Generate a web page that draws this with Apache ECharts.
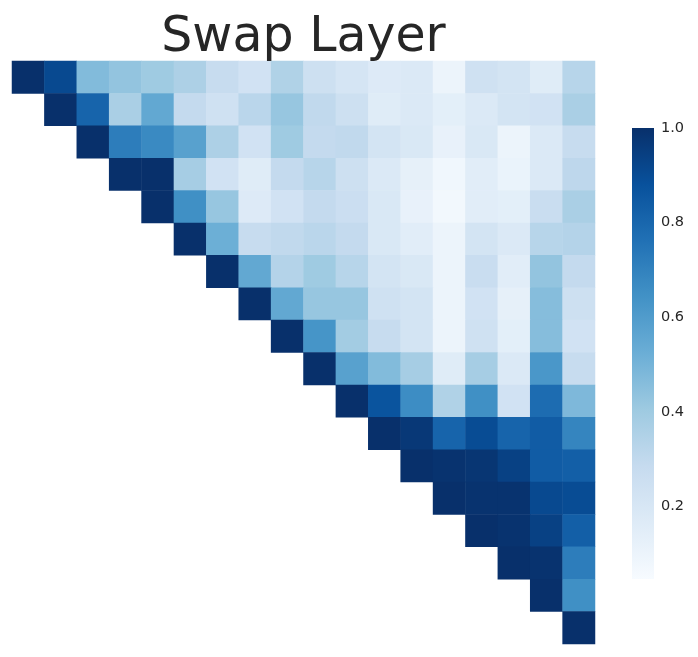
<!DOCTYPE html>
<html lang="en">
<head>
    <meta charset="UTF-8">
    <title>Swap Layer</title>
    <script src="https://cdn.jsdelivr.net/npm/echarts@6/dist/echarts.min.js"></script>
    <style>
        body { margin: 0; background: #fff; }
        #chart { width: 698px; height: 657px; }
    </style>
</head>
<body>
<div id="chart"></div>
<script>
    // layer indices, rows hold the upper triangle starting at the diagonal
    var layers = ['0','1','2','3','4','5','6','7','8','9','10','11','12','13','14','15','16','17'];
    var row0  = [1.0, 0.91, 0.47, 0.43, 0.40, 0.36, 0.28, 0.23, 0.35, 0.25, 0.21, 0.17, 0.18, 0.10, 0.24, 0.22, 0.16, 0.33];
    var row1  = [1.0, 0.81, 0.37, 0.55, 0.29, 0.24, 0.32, 0.42, 0.30, 0.25, 0.16, 0.18, 0.14, 0.18, 0.22, 0.23, 0.37];
    var row2  = [1.0, 0.72, 0.67, 0.58, 0.36, 0.23, 0.40, 0.29, 0.30, 0.22, 0.19, 0.12, 0.19, 0.10, 0.18, 0.28];
    var row3  = [1.0, 1.0, 0.38, 0.23, 0.16, 0.29, 0.33, 0.25, 0.18, 0.13, 0.08, 0.15, 0.11, 0.18, 0.31];
    var row4  = [1.0, 0.65, 0.42, 0.17, 0.23, 0.29, 0.26, 0.19, 0.12, 0.07, 0.15, 0.14, 0.27, 0.37];
    var row5  = [1.0, 0.52, 0.28, 0.30, 0.32, 0.29, 0.19, 0.15, 0.10, 0.22, 0.18, 0.33, 0.34];
    var row6  = [1.0, 0.55, 0.34, 0.40, 0.33, 0.22, 0.19, 0.10, 0.27, 0.15, 0.43, 0.29];
    var row7  = [1.0, 0.55, 0.42, 0.42, 0.24, 0.22, 0.10, 0.23, 0.13, 0.46, 0.25];
    var row8  = [1.0, 0.63, 0.39, 0.28, 0.22, 0.10, 0.24, 0.14, 0.46, 0.23];
    var row9  = [1.0, 0.58, 0.47, 0.38, 0.16, 0.38, 0.18, 0.62, 0.28];
    var row10 = [1.0, 0.87, 0.66, 0.35, 0.65, 0.23, 0.78, 0.48];
    var row11 = [1.0, 0.97, 0.81, 0.90, 0.81, 0.84, 0.69];
    var row12 = [1.0, 0.99, 0.98, 0.94, 0.84, 0.83];
    var row13 = [1.0, 0.99, 0.99, 0.91, 0.90];
    var row14 = [1.0, 0.99, 0.94, 0.83];
    var row15 = [1.0, 0.99, 0.72];
    var row16 = [1.0, 0.65];
    var row17 = [1.0];
    var colorbarTicks = [0.2, 0.4, 0.6, 0.8, 1.0];

    var rows = [row0, row1, row2, row3, row4, row5, row6, row7, row8, row9,
                row10, row11, row12, row13, row14, row15, row16, row17];
    var cells = [];
    rows.forEach(function (r, i) {
        r.forEach(function (v, k) {
            cells.push([i + k, i, v]);
        });
    });

    var blues = ['#f7fbff', '#deebf7', '#c6dbef', '#9ecae1', '#6baed6',
                 '#4292c6', '#2171b5', '#08519c', '#08306b'];
    var vmin = 0.047, vmax = 1.0;

    // colorbar gradient, top = vmax
    var stops = blues.map(function (c, i) {
        return { offset: 1 - i / (blues.length - 1), color: c };
    }).reverse();

    var chart = echarts.init(document.getElementById('chart'));
    chart.setOption({
        animation: false,
        textStyle: { fontFamily: 'DejaVu Sans' },
        title: {
            text: 'Swap Layer',
            left: 298.5,
            textAlign: 'center',
            top: 9,
            textStyle: { fontSize: 49, fontWeight: 'normal', color: '#262626', fontFamily: 'DejaVu Sans' }
        },
        grid: [
            { left: 12, top: 61, width: 583, height: 583 },
            { left: 632, top: 128, width: 22, height: 473 }
        ],
        xAxis: [
            { type: 'category', data: layers, gridIndex: 0, show: false },
            { type: 'value', gridIndex: 1, show: false }
        ],
        yAxis: [
            { type: 'category', data: layers, gridIndex: 0, inverse: true, show: false },
            {
                type: 'value', gridIndex: 1, position: 'right', min: 0, max: 1, interval: 0.2,
                axisLine: { show: false }, axisTick: { show: false }, splitLine: { show: false },
                axisLabel: {
                    margin: 7,
                    fontSize: 14.5,
                    color: '#262626',
                    fontFamily: 'DejaVu Sans',
                    formatter: function (v) {
                        return colorbarTicks.some(function (t) { return Math.abs(t - v) < 1e-6; }) ? v.toFixed(1) : '';
                    }
                }
            }
        ],
        visualMap: {
            type: 'continuous',
            seriesIndex: 0,
            min: vmin,
            max: vmax,
            show: false,
            inRange: { color: blues }
        },
        graphic: [{
            type: 'rect',
            left: 632,
            top: 128,
            shape: { width: 22, height: 451 },
            style: {
                fill: new echarts.graphic.LinearGradient(0, 0, 0, 1, stops)
            },
            silent: true
        }],
        series: [{
            type: 'heatmap',
            xAxisIndex: 0,
            yAxisIndex: 0,
            data: cells,
            itemStyle: { borderWidth: 0 },
            emphasis: { disabled: true }
        }]
    });
</script>
</body>
</html>
